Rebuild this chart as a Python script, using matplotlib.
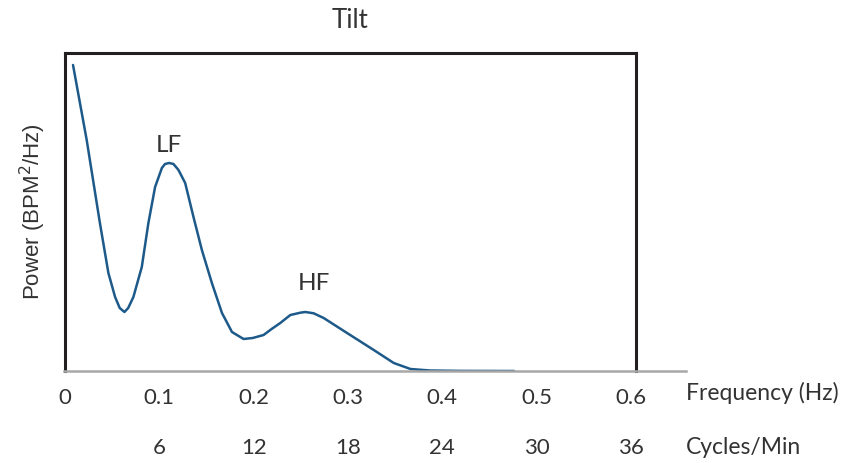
import numpy as np
import matplotlib
matplotlib.use("Agg")
import matplotlib.pyplot as plt
from matplotlib.lines import Line2D

# Spectral power curve read along the frequency axis
freq_hz = [0.0085, 0.023, 0.037, 0.046, 0.0531, 0.058, 0.063, 0.067, 0.0725, 0.0814,
           0.0884, 0.0955, 0.1027, 0.106, 0.1104, 0.115, 0.1203, 0.1274, 0.1362, 0.1451,
           0.1557, 0.1664, 0.177, 0.1893, 0.199, 0.2105, 0.219, 0.2282, 0.2389, 0.2495,
           0.2548, 0.2636, 0.2742, 0.299, 0.3273, 0.3485, 0.3662, 0.387, 0.420, 0.476]
power = [306, 231, 148, 98, 74, 63, 59, 63, 74, 104,
         148, 184, 203, 207, 208, 207, 201, 188, 154, 121,
         88, 58, 39, 32, 33, 36, 42, 48, 56, 58.3,
         59, 57.7, 53, 38, 21, 8, 2, 0.5, 0.1, 0]

freq_ticks = [0, 0.1, 0.2, 0.3, 0.4, 0.5, 0.6]
freq_labels = ["0", "0.1", "0.2", "0.3", "0.4", "0.5", "0.6"]
cpm_labels = ["6", "12", "18", "24", "30", "36"]

font = "Lato"
text_color = "#333333"
curve_color = "#1d5a8a"

fig = plt.figure(figsize=(8.61, 4.63), dpi=100)
ax = fig.add_axes([65 / 861, 92 / 463, 571 / 861, 318 / 463])

ax.plot(freq_hz, power, color=curve_color, lw=1.8, solid_capstyle="round",
        solid_joinstyle="round")

ax.set_xlim(0, 0.6053)
ax.set_ylim(0, 318)
ax.set_yticks([])
ax.set_xticks(freq_ticks)
ax.set_xticklabels(freq_labels, fontsize=16, family=font, color=text_color)
ax.tick_params(axis="x", length=0, pad=12)

for side in ["left", "top", "right"]:
    ax.spines[side].set_linewidth(2.2)
    ax.spines[side].set_color("#231f20")
ax.spines["bottom"].set_visible(False)

# gray baseline running past the right edge of the box
fig.add_artist(Line2D([64 / 861, 686 / 861], [92 / 463, 92 / 463],
                      color="#a8a8a8", lw=1.8, transform=fig.transFigure))

# cycles per minute row under the Hz ticks
xt = ax.get_xaxis_transform()
for f, lab in zip(freq_ticks[1:], cpm_labels):
    ax.text(f, -0.242, lab, transform=xt, ha="center", va="center",
            fontsize=16, family=font, color=text_color)
ax.text(0.658, -0.069, "Frequency (Hz)", transform=xt, ha="left", va="center",
        fontsize=16.5, family=font, color=text_color)
ax.text(0.658, -0.242, "Cycles/Min", transform=xt, ha="left", va="center",
        fontsize=16.5, family=font, color=text_color)

ax.text(0.110, 225, "LF", ha="center", va="center", fontsize=17.5, family=font, color=text_color)
ax.text(0.264, 88, "HF", ha="center", va="center", fontsize=17.5, family=font, color=text_color)

ax.set_ylabel("Power (BPM$^{2}$/Hz)", fontsize=16, family="Liberation Sans",
              color=text_color, labelpad=12)
fig.text(350 / 861, 1 - 20 / 463, "Tilt", ha="center", va="center",
         fontsize=18.5, family=font, color=text_color)

fig.savefig("out.png", dpi=100)
